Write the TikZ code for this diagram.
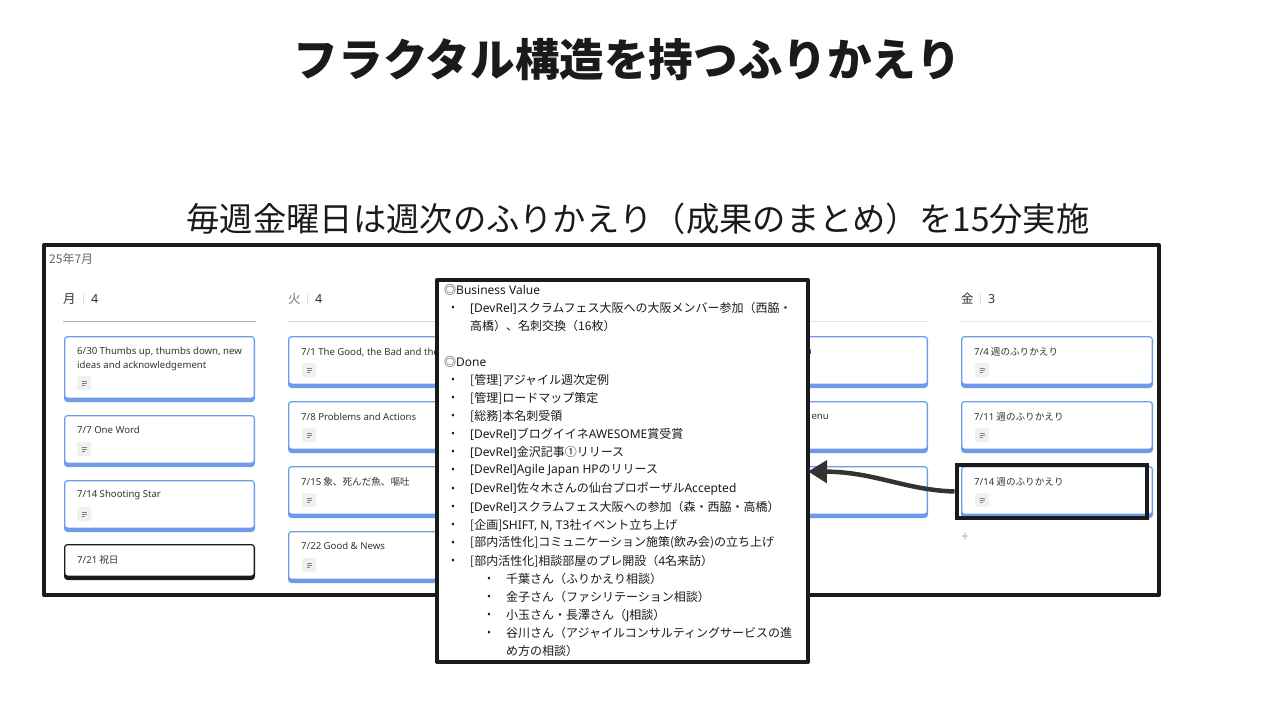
\documentclass[tikz,border=0pt]{standalone}
\usepackage{fontspec}
\setmainfont{Noto Sans CJK JP}
\newfontfamily\lat{Noto Sans}
\usetikzlibrary{arrows.meta}
\definecolor{cblue}{HTML}{6F9BE8}
\definecolor{ink}{HTML}{1A1A1A}
\definecolor{soft}{HTML}{333333}
\tikzset{
  x=1pt,y=-1pt,
  frame/.style={draw=ink,line width=4pt,fill=white,line join=round},
  cardtext/.style={anchor=west,inner sep=0pt,yshift=-1pt,font=\fontsize{9.6}{12}\selectfont,text=soft},
  dayhead/.style={anchor=west,inner sep=0pt,yshift=-1pt,font=\fontsize{12.5}{14}\selectfont,text=soft},
  detail/.style={anchor=west,inner sep=0pt,yshift=-1pt,font=\fontsize{12}{14}\selectfont,text=ink},
  dot/.style={anchor=center,inner sep=0pt,yshift=-1pt,font=\fontsize{10}{12}\selectfont,text=ink},
  hrule/.style={line width=0.8pt},
}
\newcommand{\kcard}[5]{% x1,x2,top,bottom,colour
  \fill[#5,rounded corners=3.5pt] (#1,#3) rectangle (#2,#4);
  \fill[white,rounded corners=2.5pt] (#1+1.3,#3+1.3) rectangle (#2-1.3,#4-4.5);
}
\newcommand{\kicon}[3]{% name,x,y
  \node[fill=black!6,rounded corners=1.5pt,minimum size=14pt,inner sep=0pt] (#1) at (#2+7,#3+7) {};
  \draw[black!50,line width=0.6pt] (#2+4.5,#3+5) -- +(5,0) (#2+4.5,#3+7) -- +(5,0) (#2+4.5,#3+9) -- +(3,0);
}
\begin{document}
\begin{tikzpicture}
\useasboundingbox (0,0) rectangle (1264,710);
\fill[white] (0,0) rectangle (1264,710);
\node[inner sep=0pt,text=ink,font=\fontsize{44.6}{50}\selectfont\bfseries] (title) at (627.5,60) {フラクタル構造を持つふりかえり};
\node[inner sep=0pt,text=ink,font=\fontsize{33.3}{38}\selectfont] (sub) at (638,219) {毎週金曜日は週次のふりかえり（成果のまとめ）を15分実施};
\node[frame,minimum width=1115pt,minimum height=350pt,inner sep=0pt,anchor=north west] (cal) at (42,243) {};
\node[anchor=west,inner sep=0pt,text=black!60,font=\fontsize{12}{14}\selectfont] (month) at (49,259) {25年7月};
% day headers
\node[dayhead] (d1) at (63,298) {月};
\node[dayhead] (n1) at (91,298) {\lat 4};
\node[dayhead,text=black!55] (d2) at (288,298) {火};
\node[dayhead] (n2) at (315,298) {\lat 4};
\node[dayhead] (d5) at (961,298) {金};
\node[dayhead] (n5) at (988,298) {\lat 3};
\draw[black!12,line width=0.6pt] (83,293) -- (83,304) (307,293) -- (307,304) (980,293) -- (980,304);
\draw[hrule,black!30] (63,321) -- (256,321);
\draw[hrule,blue!30!black!18] (288,321) -- (440,321);
\draw[hrule,black!10] (800,321) -- (928,321);
\draw[hrule,black!8] (960,321) -- (1153,321);
% column 1
\kcard{64}{255}{336}{402}{cblue}
\kcard{64}{255}{415}{467}{cblue}
\kcard{64}{255}{480}{532}{cblue}
\kcard{64}{255}{544}{580}{ink}
\node[cardtext] (c11) at (77,351) {\lat 6/30 Thumbs up, thumbs down, new};
\node[cardtext] (c11b) at (77,365) {\lat ideas and acknowledgement};
\kicon{i11}{77}{376}
\node[cardtext] (c12) at (77,429) {\lat 7/7 One Word};
\kicon{i12}{77}{442}
\node[cardtext] (c13) at (77,494) {\lat 7/14 Shooting Star};
\kicon{i13}{77}{507}
\node[cardtext] (c14) at (77,559) {{\lat 7/21} 祝日};
% column 2
\kcard{288}{480}{336}{388}{cblue}
\kcard{288}{480}{401}{453}{cblue}
\kcard{288}{480}{466}{518}{cblue}
\kcard{288}{480}{531}{583}{cblue}
\node[cardtext] (c21) at (301,351) {\lat 7/1 The Good, the Bad and the};
\kicon{i21}{302}{363}
\node[cardtext] (c22) at (301,416) {\lat 7/8 Problems and Actions};
\kicon{i22}{302}{428}
\node[cardtext] (c23) at (301,481) {{\lat 7/15} 象、死んだ魚、嘔吐};
\kicon{i23}{302}{493}
\node[cardtext] (c24) at (301,545) {\lat 7/22 Good \& News};
\kicon{i24}{302}{558}
% column 4
\kcard{736}{928}{336}{388}{cblue}
\kcard{736}{928}{401}{453}{cblue}
\kcard{736}{928}{466}{518}{cblue}
\node[cardtext,anchor=east] (c41) at (812,351) {\lat n};
\node[cardtext,anchor=east] (c42) at (829,416) {\lat enu};
% column 5
\kcard{961}{1153}{336}{388}{cblue}
\kcard{961}{1153}{401}{453}{cblue}
\kcard{961}{1153}{466}{518}{cblue}
\node[cardtext] (c51) at (974,351) {{\lat 7/4} 週のふりかえり};
\kicon{i51}{975}{363}
\node[cardtext] (c52) at (974,416) {{\lat 7/11} 週のふりかえり};
\kicon{i52}{975}{428}
\node[cardtext] (c53) at (974,481) {{\lat 7/14} 週のふりかえり};
\kicon{i53}{975}{493}
\node[anchor=center,inner sep=0pt,text=black!30,font=\fontsize{14}{14}\selectfont] (plus) at (965,537) {\lat +};
% detail panel
\node[frame,minimum width=371pt,minimum height=382pt,inner sep=0pt,anchor=north west] (panel) at (435,278) {};
\node[detail] (t1) at (444,289) {◎{\lat Business Value}};
\node[detail] (t2) at (470,307) {{\lat[DevRel]}スクラムフェス大阪への大阪メンバー参加（西脇・};
\node[detail] (t3) at (470,325) {高橋）、名刺交換（16枚）};
\node[detail] (t4) at (444,361) {◎{\lat Done}};
\node[detail] (t5) at (470,379) {[管理]アジャイル週次定例};
\node[detail] (t6) at (470,397) {[管理]ロードマップ策定};
\node[detail] (t7) at (470,415) {[総務]本名刺受領};
\node[detail] (t8) at (470,433) {{\lat[DevRel]}ブログイイネ{\lat AWESOME}賞受賞};
\node[detail] (t9) at (470,451) {{\lat[DevRel]}金沢記事①リリース};
\node[detail] (t10) at (470,469) {{\lat[DevRel]Agile Japan HP}のリリース};
\node[detail] (t11) at (470,488) {{\lat[DevRel]}佐々木さんの仙台プロポーザル{\lat Accepted}};
\node[detail] (t12) at (470,506) {{\lat[DevRel]}スクラムフェス大阪への参加（森・西脇・高橋）};
\node[detail] (t13) at (470,524) {[企画]{\lat SHIFT, N, T3}社イベント立ち上げ};
\node[detail] (t14) at (470,542) {[部内活性化]コミュニケーション施策(飲み会)の立ち上げ};
\node[detail] (t15) at (470,560) {[部内活性化]相談部屋のプレ開設（{\lat 4}名来訪）};
\node[detail] (t16) at (506,578) {千葉さん（ふりかえり相談）};
\node[detail] (t17) at (506,596) {金子さん（ファシリテーション相談）};
\node[detail] (t18) at (506,614) {小玉さん・長澤さん（{\lat J}相談）};
\node[detail] (t19) at (506,632) {谷川さん（アジャイルコンサルティングサービスの進};
\node[detail] (t20) at (506,650) {め方の相談）};
\foreach \yy/\nm in {307/a,379/b,397/c,415/e,433/f,451/g,469/h,488/i,506/j,524/k,542/l,560/m}{
  \node[dot] (b\nm) at (453,\yy) {•};
}
\foreach \yy/\nm in {578/a,596/b,614/c,632/e}{
  \node[dot] (s\nm) at (489,\yy) {•};
}
% highlight and arrow
\node[draw=ink,line width=4pt,minimum width=190pt,minimum height=53pt,inner sep=0pt,anchor=north west] (hl) at (954.5,463) {};
\coordinate (tip) at (808,471.5);
\draw[soft,line width=4.5pt,-{Triangle[length=19pt,width=22pt]}] (hl.west) .. controls (905,490) and (875,472) .. (tip);
\end{tikzpicture}
\end{document}
